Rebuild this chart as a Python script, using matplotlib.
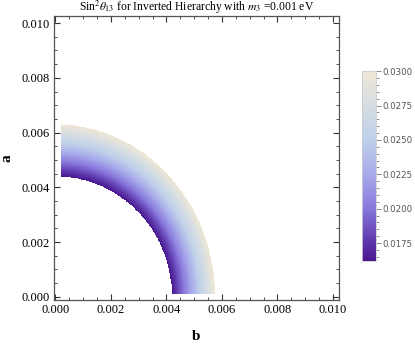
import numpy as np
import matplotlib
matplotlib.use('Agg')
import matplotlib.pyplot as plt
from matplotlib.colors import LinearSegmentedColormap
from matplotlib.ticker import MultipleLocator

# boundaries of the allowed region (inner, outer)
b_edge = [0.0042, 0.00575]   # where the band meets the b axis
a_edge = [0.0044, 0.0063]    # where the band meets the a axis
sin2_range = [0.0162, 0.0300]  # sin^2 theta13 at inner / outer edge
b_start = 0.0002
a_start = 0.0001

cbar_ticks = [0.0175, 0.0200, 0.0225, 0.0250, 0.0275, 0.0300]
axis_ticks = [0.000, 0.002, 0.004, 0.006, 0.008, 0.010]

# colour scheme sampled from the legend bar
cm_vals = [0.0162, 0.0175, 0.0200, 0.0225, 0.0250, 0.0275, 0.0300]
cm_cols = ['#4a1890', '#5b34a8', '#8878dc', '#a8aaea', '#bfd0ea', '#d5dde3', '#eee7d5']
lo, hi = sin2_range
cmap = LinearSegmentedColormap.from_list(
    'mma', [((v - lo) / (hi - lo), c) for v, c in zip(cm_vals, cm_cols)])

plt.rcParams['font.family'] = 'Liberation Serif'
plt.rcParams['mathtext.fontset'] = 'stix'

# build the field
bb = np.linspace(b_start, 0.0065, 500)
aa = np.linspace(a_start, 0.0070, 500)
B, A = np.meshgrid(bb, aa)
r = np.hypot(B, A)
phi = np.arctan2(A, B)

def ell(p, q):
    return 1.0 / np.sqrt(np.cos(phi)**2 / p**2 + np.sin(phi)**2 / q**2)

r_in = ell(b_edge[0], a_edge[0])
r_out = ell(b_edge[1], a_edge[1])
s = (r - r_in) / (r_out - r_in)
Z = lo + s * (hi - lo)
Z = np.ma.masked_where((s < 0) | (s > 1), Z)

fig = plt.figure(figsize=(4.15, 3.47), dpi=100)
ax = fig.add_axes([0.130, 0.135, 0.687, 0.819])
mesh = ax.pcolormesh(B, A, Z, cmap=cmap, vmin=lo, vmax=hi, shading='auto', rasterized=True)

ax.set_xlim(-0.000054, 0.01022)
ax.set_ylim(-0.00012, 0.01026)
ax.set_xticks(axis_ticks)
ax.set_yticks(axis_ticks)
ax.set_xticklabels(['%.3f' % t for t in axis_ticks])
ax.set_yticklabels(['%.3f' % t for t in axis_ticks])
ax.xaxis.set_minor_locator(MultipleLocator(0.0005))
ax.yaxis.set_minor_locator(MultipleLocator(0.0005))
ax.tick_params(which='both', direction='in', top=True, right=True, labelsize=9, color='#333333')
ax.tick_params(which='major', length=4, width=0.8, pad=3)
ax.tick_params(which='minor', length=2, width=0.6)
for sp in ax.spines.values():
    sp.set_color('#555555')
    sp.set_linewidth(0.9)

ax.set_xlabel('b', fontweight='bold', fontsize=11, labelpad=10)
ax.set_ylabel('a', fontweight='bold', fontsize=11, labelpad=6)
ax.set_title(r'Sin$^2\theta_{13}$ for Inverted Hierarchy with $m_3$ =0.001 eV', fontsize=8.4, pad=2)

cax = fig.add_axes([0.872, 0.248, 0.034, 0.547])
cb = fig.colorbar(mesh, cax=cax, ticks=cbar_ticks)
cb.ax.set_yticklabels(['%.4f' % t for t in cbar_ticks])
cb.ax.yaxis.set_minor_locator(MultipleLocator(0.0005))
cb.ax.tick_params(which='both', labelsize=6.2, colors='#777777', labelcolor='#555555', width=0.6, pad=1)
cb.ax.tick_params(which='major', length=3.5)
cb.ax.tick_params(which='minor', length=2)
for t in cb.ax.get_yticklabels():
    t.set_family('DejaVu Sans')
cb.outline.set_edgecolor('#cccccc')
cb.outline.set_linewidth(0.6)

fig.savefig('out.png', dpi=100)
